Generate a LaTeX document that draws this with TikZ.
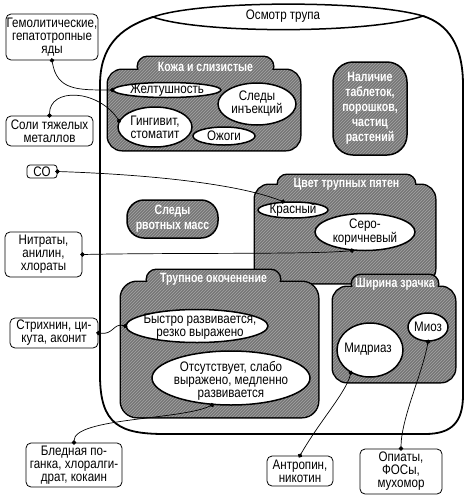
\documentclass[tikz,border=0pt]{standalone}
\usepackage{fontspec}
\setmainfont{Liberation Sans}[FakeStretch=0.84]
\newfontfamily\condbold{Liberation Sans}[FakeStretch=0.78]
\usetikzlibrary{shapes.geometric,arrows.meta,patterns}
\definecolor{gfill}{RGB}{118,118,118}
\definecolor{glines}{RGB}{165,165,165}
\newcommand\mybody{\fontsize{13.8}{13}\selectfont}
\newcommand\mytitle{\condbold\bfseries\fontsize{13.5}{15}\selectfont}
\begin{document}
\begin{tikzpicture}[x=1pt,y=-1pt,
 txt/.style={font=\mybody, align=center, inner sep=0pt},
 srcbox/.style={draw, line width=0.8pt, rounded corners=5pt, fill=white, inner sep=0pt, font=\mybody, align=center},
 oval/.style={ellipse, draw, line width=1.5pt, fill=white, inner sep=0pt},
 gshape/.style={preaction={fill=gfill}, pattern=north east lines, pattern color=glines, draw, line width=1.5pt, inner sep=0pt},
 gfillonly/.style={preaction={fill=gfill}, pattern=north east lines, pattern color=glines},
 outline/.style={draw, line width=3pt, inner sep=0pt, outer sep=0pt},
 gtxt/.style={font=\mytitle, text=white, align=center, inner sep=0pt},
 link/.style={line width=0.7pt, {Circle[length=4.5pt]}-{Circle[length=4.5pt]}, shorten >=-2.2pt, shorten <=-2.2pt},
]
\fill[white] (0,0) rectangle (472,499);
\useasboundingbox (0,0) rectangle (472,499);

% outer container
\draw[line width=1.8pt] (153,17) .. controls (118,28) and (100,48) .. (100,85) -- (100,375)
  .. controls (100,425) and (120,434) .. (165,434) -- (425,434)
  .. controls (452,434) and (463,422) .. (463,395) -- (463,85)
  .. controls (463,45) and (448,24) .. (423,16);
\draw[line width=1.5pt, fill=white] (153,17) .. controls (200,0) and (370,0) .. (423,16)
  .. controls (370,34) and (200,34) .. (153,17) -- cycle;
\node[txt] (osm) at (283,16) {Осмотр трупа};

% source boxes
\node[srcbox, minimum width=92pt, minimum height=46pt] (gem) at (52,37) {Гемолитические,\\гепатотропные\\яды};
\node[srcbox, minimum width=87pt, minimum height=30pt] (soli) at (49.5,131) {Соли тяжелых\\металлов};
\node[srcbox, minimum width=30pt, minimum height=13pt, rounded corners=3pt] (co) at (42,171.5) {CO};
\node[srcbox, minimum width=77pt, minimum height=45pt] (nitr) at (43.5,254.5) {Нитраты,\\анилин,\\хлораты};
\node[srcbox, minimum width=88pt, minimum height=30pt] (str) at (54,333) {Стрихнин, ци-\\кута, аконит};
\node[srcbox, minimum width=96pt, minimum height=44pt] (bled) at (74,465) {Бледная по-\\ганка, хлоралги-\\драт, кокаин};
\node[srcbox, minimum width=66pt, minimum height=30pt] (antr) at (300,471) {Антропин,\\никотин};
\node[srcbox, minimum width=82pt, minimum height=45pt] (opi) at (401,471.5) {Опиаты,\\ФОСы,\\мухомор};

% group: Кожа и слизистые
\node[outline, rounded corners=9.5pt, minimum width=135pt, minimum height=19pt] (ktab) at (205.5,66.5) {};
\node[outline, rounded corners=14pt, minimum width=192pt, minimum height=80pt] (kbox) at (204,110) {};
\path[gfillonly, rounded corners=9.5pt] (ktab.south west) rectangle (ktab.north east);
\path[gfillonly, rounded corners=14pt] (kbox.south west) rectangle (kbox.north east);
\node[gtxt] (ktit) at (ktab) {Кожа и слизистые};

% group: Цвет трупных пятен
\node[outline, rounded corners=9pt, minimum width=137pt, minimum height=18pt] (ctab) at (346.5,184) {};
\node[outline, rounded corners=14pt, minimum width=180pt, minimum height=98pt] (cbox) at (345,234) {};
\path[gfillonly, rounded corners=9pt] (ctab.south west) rectangle (ctab.north east);
\path[gfillonly, rounded corners=14pt] (cbox.south west) rectangle (cbox.north east);
\node[gtxt] (ctit) at (ctab) {Цвет трупных пятен};

% group: Трупное окоченение
\node[outline, rounded corners=9.5pt, minimum width=133pt, minimum height=19pt] (ttab) at (213.5,279.5) {};
\node[outline, rounded corners=16pt, minimum width=197pt, minimum height=135pt] (tbox) at (219.5,349.5) {};
\path[gfillonly, rounded corners=9.5pt] (ttab.south west) rectangle (ttab.north east);
\path[gfillonly, rounded corners=16pt] (tbox.south west) rectangle (tbox.north east);
\node[gtxt] (ttit) at (ttab) {Трупное окоченение};

% group: Ширина зрачка
\node[outline, rounded corners=9pt, minimum width=86pt, minimum height=18pt] (ztab) at (395,284) {};
\node[outline, rounded corners=14pt, minimum width=122pt, minimum height=95pt] (zbox) at (394,334.5) {};
\path[gfillonly, rounded corners=9pt] (ztab.south west) rectangle (ztab.north east);
\path[gfillonly, rounded corners=14pt] (zbox.south west) rectangle (zbox.north east);
\node[gtxt] (ztit) at (ztab) {Ширина зрачка};

% single gray shapes
\node[gshape, rounded corners=20pt, minimum width=74pt, minimum height=93pt] (nal) at (370,108.5) {};
\node[gtxt] (naltxt) at (nal) {Наличие\\таблеток,\\порошков,\\частиц\\растений};
\node[gshape, rounded corners=17pt, minimum width=91pt, minimum height=38pt] (rvot) at (172.5,219) {};
\node[gtxt] (rvottxt) at (rvot) {Следы\\рвотных масс};

% ellipses
\node[oval, minimum width=108pt, minimum height=15pt] (zh) at (167,90) {};
\node[txt] (zhtxt) at (zh) {Желтушность};
\node[oval, minimum width=78pt, minimum height=42pt] (sled) at (257,104) {};
\node[txt] (sledtxt) at (sled) {Следы\\инъекций};
\node[oval, minimum width=74pt, minimum height=40pt] (ging) at (155,127) {};
\node[txt] (gingtxt) at (ging) {Гингивит,\\стоматит};
\node[oval, minimum width=62pt, minimum height=18pt] (ozh) at (224,136) {};
\node[txt] (ozhtxt) at (ozh) {Ожоги};
\node[oval, minimum width=70pt, minimum height=16pt] (kras) at (293,210) {};
\node[txt] (krastxt) at (kras) {Красный};
\node[oval, minimum width=100pt, minimum height=37pt] (sero) at (365,232) {};
\node[txt] (serotxt) at (sero) {Серо-\\коричневый};
\node[oval, minimum width=142pt, minimum height=33pt] (bys) at (197,326) {};
\node[txt] (bystxt) at (200,327) {Быстро развивается,\\резко выражено};
\node[oval, minimum width=158pt, minimum height=54pt] (ots) at (231,378) {};
\node[txt] (otstxt) at (231,381) {Отсутствует, слабо\\выражено, медленно\\развивается};
\node[oval, minimum width=40pt, minimum height=28pt] (mioz) at (428,327) {};
\node[txt] (mioztxt) at (mioz) {Миоз};
\node[oval, minimum width=66pt, minimum height=54pt] (mid) at (370,350) {};
\node[txt] (midtxt) at (368,349) {Мидриаз};

% connectors
\draw[link] (gem.south) .. controls +(5,30) and +(-35,0) .. (zh.west);
\draw[link] (soli.north) .. controls +(0,-28) and +(-22,-32) .. (ging.170);
\draw[link] (co.east) .. controls +(90,3) and +(-45,-18) .. (kras.140);
\draw[link] (nitr.east) .. controls +(100,-2) and +(-40,4) .. (sero.235);
\draw[link] (str.east) .. controls +(15,2) and +(-12,-3) .. (bys.west);
\draw[link] (bled.north) .. controls +(0,-25) and +(-30,15) .. (ots.235);
\draw[link] (antr.north) .. controls +(20,-35) and +(-5,20) .. (mid.230);
\draw[link] (opi.north) .. controls +(0,-30) and +(-5,30) .. (mioz.south);
\end{tikzpicture}
\end{document}
